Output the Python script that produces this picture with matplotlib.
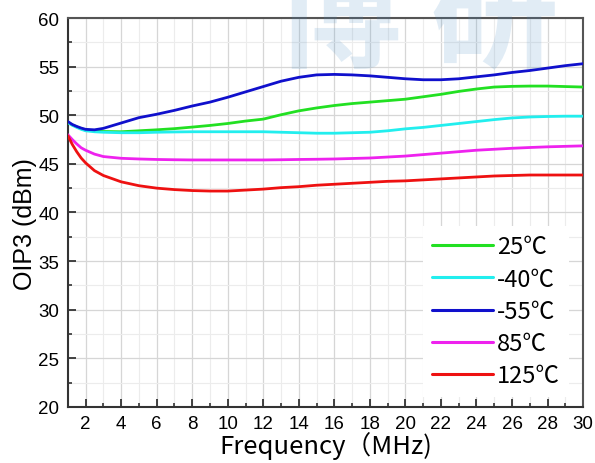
import numpy as np
import matplotlib
matplotlib.use('Agg')
import matplotlib.pyplot as plt
from matplotlib.ticker import MultipleLocator

# 频率点 (MHz)
freq = [1, 1.25, 1.5, 1.75, 2, 2.5, 3, 4, 5, 6, 7, 8, 9, 10, 11, 12, 13, 14, 15, 16,
        17, 18, 19, 20, 21, 22, 23, 24, 25, 26, 27, 28, 29, 30]

# 各温度下的 OIP3 (dBm)
oip3_25 = [49.25, 49.0, 48.8, 48.62, 48.5, 48.38, 48.33, 48.3, 48.4, 48.5, 48.62, 48.78,
           48.95, 49.15, 49.4, 49.6, 50.05, 50.45, 50.75, 51.0, 51.2, 51.35, 51.5, 51.65,
           51.9, 52.15, 52.45, 52.7, 52.9, 52.97, 53.0, 53.0, 52.95, 52.9]
oip3_m40 = [49.25, 48.98, 48.75, 48.55, 48.4, 48.3, 48.25, 48.2, 48.2, 48.25, 48.28, 48.3,
            48.3, 48.3, 48.3, 48.3, 48.25, 48.2, 48.15, 48.15, 48.2, 48.25, 48.4, 48.6,
            48.75, 48.95, 49.15, 49.35, 49.55, 49.72, 49.82, 49.87, 49.9, 49.9]
oip3_m55 = [49.35, 49.05, 48.85, 48.68, 48.55, 48.5, 48.65, 49.2, 49.75, 50.1, 50.5, 50.95,
            51.35, 51.85, 52.4, 52.95, 53.5, 53.9, 54.15, 54.2, 54.15, 54.05, 53.9, 53.75,
            53.65, 53.65, 53.75, 53.95, 54.15, 54.4, 54.6, 54.85, 55.1, 55.3]
oip3_85 = [48.0, 47.5, 47.05, 46.65, 46.4, 46.0, 45.75, 45.57, 45.5, 45.45, 45.42, 45.4,
           45.4, 45.4, 45.4, 45.4, 45.42, 45.45, 45.47, 45.5, 45.55, 45.6, 45.7, 45.8,
           45.95, 46.1, 46.25, 46.4, 46.5, 46.6, 46.68, 46.75, 46.8, 46.85]
oip3_125 = [47.9, 47.0, 46.25, 45.6, 45.1, 44.3, 43.8, 43.15, 42.75, 42.5, 42.35, 42.25,
            42.2, 42.2, 42.3, 42.4, 42.55, 42.65, 42.8, 42.9, 43.0, 43.1, 43.2, 43.25,
            43.35, 43.45, 43.55, 43.65, 43.75, 43.8, 43.85, 43.85, 43.85, 43.85]

labels = ['25℃', '-40℃', '-55℃', '85℃', '125℃']
colors = ['#22e022', '#22eeee', '#1010cc', '#ee22ee', '#ee1111']
series = [oip3_25, oip3_m40, oip3_m55, oip3_85, oip3_125]

cjk = ['Noto Sans CJK SC', 'DejaVu Sans']

fig = plt.figure(figsize=(5.95, 4.64), dpi=100)
ax = fig.add_axes([0.114, 0.121, 0.866, 0.838])

for y, c, lab in zip(series, colors, labels):
    ax.plot(freq, y, color=c, lw=2.0, label=lab, zorder=3,
            solid_joinstyle='round', solid_capstyle='round')

ax.set_xlim(1, 30)
ax.set_ylim(20, 60)
ax.xaxis.set_minor_locator(MultipleLocator(1))
ax.yaxis.set_major_locator(MultipleLocator(5))
ax.yaxis.set_minor_locator(MultipleLocator(2.5))
ax.set_xticks(np.arange(2, 31, 2))

ax.grid(which='major', color='#d6d6d6', lw=0.9)
ax.grid(which='minor', color='#ececec', lw=0.8)
ax.set_axisbelow(True)

ax.tick_params(which='major', direction='in', length=6, width=1.3, color='#333333',
               labelsize=13.5, pad=6)
ax.tick_params(which='minor', direction='in', length=3, width=1.2, color='#333333')
for lbl in ax.get_xticklabels() + ax.get_yticklabels():
    lbl.set_family('Liberation Sans')

for s in ax.spines.values():
    s.set_color('#333333')
    s.set_linewidth(1.5)
ax.spines['top'].set_color('#555555')
ax.spines['right'].set_color('#555555')

ax.set_xlabel('Frequency（MHz)', family=cjk, fontsize=18.5, labelpad=-1)
ax.set_ylabel('OIP3 (dBm)', family='Liberation Sans', fontsize=18)
ax.yaxis.set_label_coords(-0.06, 0.473)

leg = ax.legend(loc='lower right', frameon=True, prop={'family': cjk, 'size': 17},
                handlelength=2.6, handletextpad=0.15, labelspacing=0.39,
                borderaxespad=0.43, fancybox=False, bbox_to_anchor=(0.993, 0.0))
leg.get_frame().set_edgecolor('none')
leg.get_frame().set_facecolor('white')
leg.get_frame().set_alpha(1.0)
for h in leg.get_lines():
    h.set_linewidth(2.2)

# 背景水印 (原图顶部被裁掉一半)
fig.text(0.70, 0.955, '博 研', family=cjk, fontsize=92, fontweight='bold',
         color='#4d8fc7', alpha=0.17, ha='center', va='center', zorder=10)

fig.savefig('out.png', dpi=100)
